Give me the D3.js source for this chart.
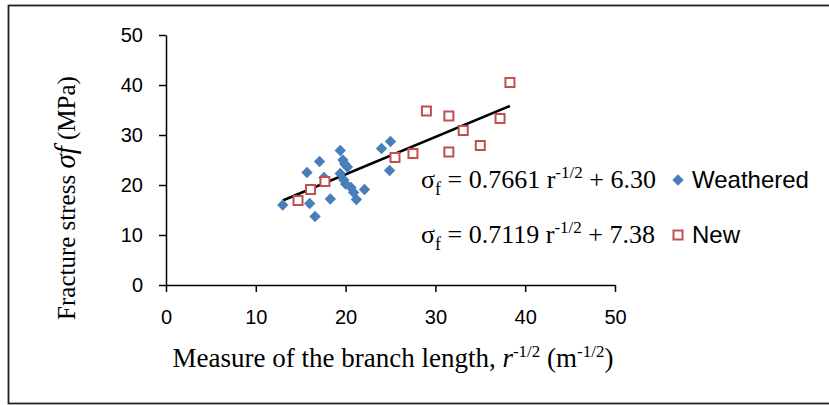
<!DOCTYPE html>
<html>
<head>
<meta charset="utf-8">
<script src="https://cdn.jsdelivr.net/npm/d3@7"></script>
<style>
  body { margin: 0; background: #fff; }
  svg text { fill: #000; }
</style>
</head>
<body>
<div id="chart"></div>
<script>
// DATA
var weatheredX = [13.0, 15.7, 16.0, 16.6, 17.1, 17.6, 18.3, 19.4, 19.7, 19.9, 20.2, 19.4, 19.8, 20.0, 20.6, 20.9, 21.2, 22.1, 24.0, 25.0, 24.9];
var weatheredY = [16.0, 22.5, 16.3, 13.7, 24.7, 21.5, 17.2, 26.9, 25.0, 24.2, 23.6, 22.3, 21.0, 20.2, 19.5, 18.5, 17.1, 19.1, 27.3, 28.7, 22.9];
var newX = [14.7, 16.1, 17.7, 25.5, 27.5, 29.0, 31.5, 31.5, 33.1, 35.0, 37.2, 38.3];
var newY = [16.9, 19.1, 20.7, 25.5, 26.3, 34.8, 33.8, 26.6, 30.9, 27.9, 33.3, 40.5];

// trend line as drawn in the figure
var trendX = [13.0, 38.3];
var trendY = [16.9, 35.8];

var xTicks = [0, 10, 20, 30, 40, 50];
var yTicks = [0, 10, 20, 30, 40, 50];

var legendNames = ["Weathered", "New"];
var legendCoef = ["0.7661", "0.7119"];
var legendConst = ["6.30", "7.38"];

// SIZING
var W = 829, H = 405;
var margin = { top: 35, left: 166, right: 214, bottom: 120 };
var plotW = W - margin.left - margin.right;
var plotH = H - margin.top - margin.bottom;

var svg = d3.select("#chart").append("svg")
    .attr("width", W)
    .attr("height", H);

// outer frame
svg.append("rect")
    .attr("x", 8.5).attr("y", 5.5)
    .attr("width", 840).attr("height", 398)
    .attr("fill", "none")
    .attr("stroke", "#222")
    .attr("stroke-width", 1.8);

var x = d3.scaleLinear().domain([0, 50]).range([margin.left, margin.left + plotW]);
var y = d3.scaleLinear().domain([0, 50]).range([margin.top + plotH, margin.top]);

// AXES
var xAxis = svg.append("g")
    .attr("transform", "translate(0," + y(0) + ")")
    .call(d3.axisBottom(x).tickValues(xTicks).tickSize(7).tickPadding(18).tickSizeOuter(0));
var yAxis = svg.append("g")
    .attr("transform", "translate(" + x(0) + ",0)")
    .call(d3.axisLeft(y).tickValues(yTicks).tickSize(7).tickPadding(16).tickSizeOuter(0));

[xAxis, yAxis].forEach(function (a) {
    a.selectAll("path, line").attr("stroke", "#000").attr("stroke-width", 1.5);
    a.selectAll("text")
        .style("font-family", "Liberation Sans, Arial, sans-serif")
        .style("font-size", "20px")
        .attr("fill", "#000");
});

// axis titles
var xTitle = svg.append("text")
    .attr("x", 393).attr("y", 367)
    .attr("text-anchor", "middle")
    .style("font-family", "Liberation Serif, Times New Roman, serif")
    .style("font-size", "27px");
xTitle.append("tspan").text("Measure of the branch length, ");
xTitle.append("tspan").style("font-style", "italic").text("r");
xTitle.append("tspan").attr("dy", -10).style("font-size", "17px").text("-1/2");
xTitle.append("tspan").attr("dy", 10).text(" (m");
xTitle.append("tspan").attr("dy", -10).style("font-size", "17px").text("-1/2");
xTitle.append("tspan").attr("dy", 10).text(")");

var yTitle = svg.append("text")
    .attr("transform", "translate(75,198) rotate(-90)")
    .attr("text-anchor", "middle")
    .style("font-family", "Liberation Serif, Times New Roman, serif")
    .style("font-size", "25px");
yTitle.append("tspan").text("Fracture stress ");
yTitle.append("tspan").style("font-style", "italic").style("font-size", "29px").text("σf");
yTitle.append("tspan").text(" (MPa)");

// TREND LINE
svg.append("line")
    .attr("x1", x(trendX[0])).attr("y1", y(trendY[0]))
    .attr("x2", x(trendX[1])).attr("y2", y(trendY[1]))
    .attr("stroke", "#000")
    .attr("stroke-width", 2.5);

// POINTS
var blue = "#4a7ebb", red = "#c0504d";
var diamond = d3.symbol().type(d3.symbolSquare).size(64);

svg.append("g").selectAll("path")
    .data(weatheredX)
    .enter().append("path")
    .attr("d", diamond)
    .attr("fill", blue)
    .attr("transform", function (d, i) {
        return "translate(" + x(d) + "," + y(weatheredY[i]) + ") rotate(45)";
    });

svg.append("g").selectAll("rect")
    .data(newX)
    .enter().append("rect")
    .attr("x", function (d) { return x(d) - 4.5; })
    .attr("y", function (d, i) { return y(newY[i]) - 4.5; })
    .attr("width", 9).attr("height", 9)
    .attr("fill", "#fff")
    .attr("stroke", red)
    .attr("stroke-width", 2);

// LEGEND + equations
var rowY = [188, 243];
legendNames.forEach(function (name, i) {
    var eq = svg.append("text")
        .attr("x", 421).attr("y", rowY[i])
        .style("font-family", "Liberation Serif, Times New Roman, serif")
        .style("font-size", "26px");
    eq.append("tspan").text("σ");
    eq.append("tspan").attr("dy", 7).style("font-size", "18px").text("f");
    eq.append("tspan").attr("dy", -7).text(" = " + legendCoef[i] + " r");
    eq.append("tspan").attr("dy", -10).style("font-size", "17px").text("-1/2");
    eq.append("tspan").attr("dy", 10).text(" + " + legendConst[i]);

    var mx = 678, my = rowY[i] - 8;
    if (i === 0) {
        svg.append("path")
            .attr("d", diamond)
            .attr("fill", blue)
            .attr("transform", "translate(" + mx + "," + my + ") rotate(45)");
    } else {
        svg.append("rect")
            .attr("x", mx - 4.5).attr("y", my - 4.5)
            .attr("width", 9).attr("height", 9)
            .attr("fill", "#fff").attr("stroke", red).attr("stroke-width", 2);
    }
    svg.append("text")
        .attr("x", 692).attr("y", rowY[i])
        .style("font-family", "Liberation Sans, Arial, sans-serif")
        .style("font-size", "24px")
        .text(name);
});
</script>
</body>
</html>
